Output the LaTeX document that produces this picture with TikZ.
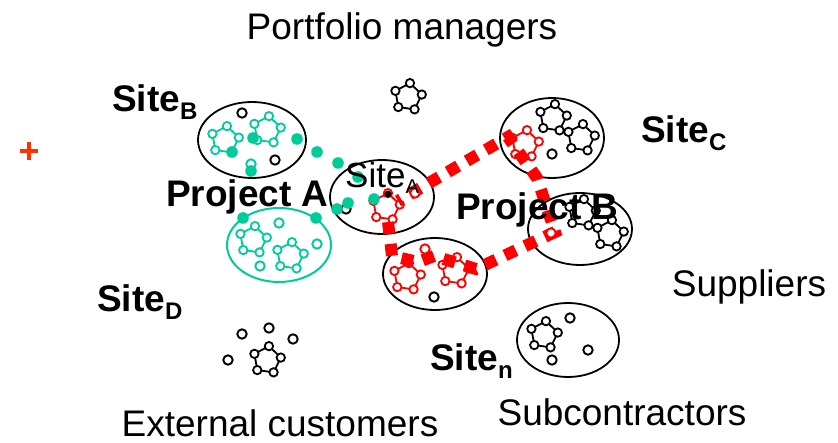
\documentclass[tikz,border=0pt]{standalone}
\usepackage{fontspec}
\setmainfont{Liberation Sans}
\usetikzlibrary{shapes.geometric}
\definecolor{teal1}{RGB}{0,204,153}
\definecolor{plusred}{RGB}{255,51,0}
\newcommand\pring[3]{%
  \begin{scope}[shift={(#1,#2)}]
    \draw[#3,line width=1.8] (-10:14) -- (-82:14) -- (-154:14) -- (-226:14) -- (-298:14) -- cycle;
    \foreach \a in {10,82,154,226,298}
      \draw[#3,line width=1.8,fill=white] (-\a:14) circle[radius=4.2];
  \end{scope}}
\newcommand\ocirc[3]{\draw[#3,line width=1.9,fill=white] (#1,#2) circle[radius=4.7];}
\newcommand\tdot[2]{\fill[teal1] (#1,#2) circle[radius=5.8];}
\begin{document}
\begin{tikzpicture}[x=1pt,y=-1pt,
  site/.style={draw=black,line width=1.8,ellipse,inner sep=0pt},
  tsite/.style={draw=teal1,line width=2,ellipse,inner sep=0pt},
  lbl/.style={anchor=base west,inner sep=0pt,font=\fontsize{37}{40}\selectfont},
  blbl/.style={anchor=base west,inner sep=0pt,font=\fontsize{37}{40}\selectfont\bfseries},
  clbl/.style={anchor=base,inner sep=0pt,font=\fontsize{37}{40}\selectfont},
  reddash/.style={draw=red,line width=12,dash pattern=on 12 off 10}]
\useasboundingbox (0,0) rectangle (838,443);
% ellipses
\node[site,minimum width=108pt,minimum height=76pt] (eB) at (252,140) {};
\node[site,minimum width=104pt,minimum height=74pt] (eA) at (382,197) {};
\node[site,minimum width=104pt,minimum height=80pt] (eC) at (552,138) {};
\node[site,minimum width=104pt,minimum height=72pt] (ePB) at (580,229) {};
\node[site,minimum width=104pt,minimum height=72pt] (eL) at (435,274) {};
\node[site,minimum width=102pt,minimum height=74pt] (eN) at (568,340) {};
\node[tsite,minimum width=104pt,minimum height=74pt] (eT) at (279,245) {};
% rings
\pring{225}{140}{teal1}
\pring{267}{130}{teal1}
\pring{408}{97}{black}
\pring{386}{207}{red}
\pring{525}{144}{red}
\pring{553}{118}{black}
\pring{581}{138}{black}
\pring{407}{277}{red}
\pring{455}{271}{red}
\pring{582}{213}{black}
\pring{610}{234}{black}
\pring{544}{335}{black}
\pring{267}{360}{black}
\pring{253}{240}{teal1}
\pring{290}{256}{teal1}
% single circles
\ocirc{242}{113}{black}
\ocirc{275}{160}{black}
\ocirc{552}{154}{black}
\ocirc{434}{297}{black}
\ocirc{570}{318}{black}
\ocirc{588}{350}{black}
\ocirc{552}{360}{black}
\ocirc{242}{334}{black}
\ocirc{269}{328}{black}
\ocirc{293}{339}{black}
\ocirc{228}{360}{black}
\ocirc{346}{209}{black}
\ocirc{251}{164}{teal1}
\ocirc{279}{223}{teal1}
\ocirc{317}{244}{teal1}
\ocirc{260}{266}{teal1}
% red dashed route
\coordinate (r1) at (388,222);
\coordinate (r2) at (392,256);
\coordinate (r3) at (418,262);
\coordinate (r4) at (434,256);
\coordinate (r5) at (476,269);
\coordinate (r6) at (555,232);
\coordinate (r7) at (537,178);
\coordinate (r8) at (508,137);
\coordinate (r9) at (398,201);
\draw[reddash] (r1) -- (r2) -- (r3) -- (r4) -- (r5) -- (r6) -- (r7) -- (r8) -- (r9);
\ocirc{415}{193}{red}
\ocirc{425}{249}{red}
\ocirc{551}{233}{red}
% teal dots
\tdot{232}{152}
\tdot{253}{138}
\tdot{297}{139}
\tdot{317}{152}
\tdot{338}{163}
\tdot{358}{177}
\tdot{374}{199}
\tdot{348}{203}
\tdot{337}{209}
\tdot{316}{218}
\tdot{243}{218}
\tdot{251}{171}
\fill[black] (388,194) circle[radius=3.5];
% plus
\draw[plusred,line width=3.2] (20,151) -- (38,151) (29,142) -- (29,160);
% labels
\node[clbl] (pm) at (402,40) {Portfolio managers};
\node[clbl] (ec) at (280,436) {External customers};
\node[clbl] (sc) at (622,425) {Subcontractors};
\node[clbl] (sp) at (749,297) {Suppliers};
\node[blbl] (lB) at (112,112) {Site\raisebox{-8pt}{\fontsize{24}{24}\selectfont B}};
\node[blbl] (lC) at (641,143) {Site\raisebox{-8pt}{\fontsize{24}{24}\selectfont C}};
\node[blbl] (lD) at (97,312) {Site\raisebox{-8pt}{\fontsize{24}{24}\selectfont D}};
\node[blbl] (lN) at (430,371) {Site\raisebox{-8pt}{\fontsize{24}{24}\selectfont n}};
\node[blbl] (pA) at (166,207) {Project A};
\node[blbl] (pB) at (456,220) {Project B};
\node[lbl,font=\fontsize{35}{38}\selectfont] (lA) at (345,188) {Site\raisebox{-6pt}{\fontsize{20}{20}\selectfont A}};
\end{tikzpicture}
\end{document}
